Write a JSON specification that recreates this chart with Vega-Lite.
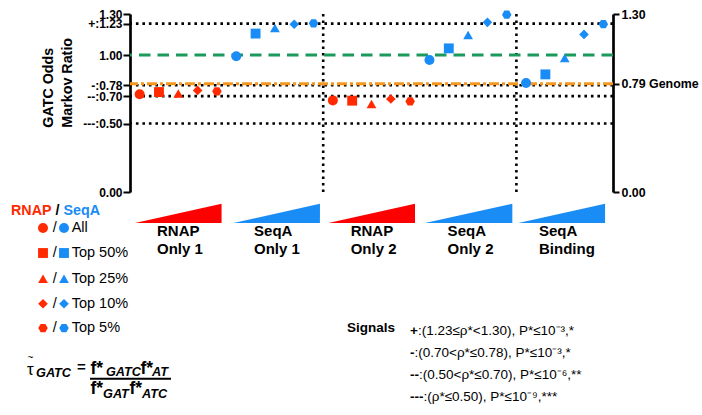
{
  "$schema": "https://vega.github.io/schema/vega-lite/v6.json",
  "width": 483,
  "height": 178,
  "autosize": {"type": "none"},
  "padding": {"left": 130, "top": 14, "right": 89, "bottom": 223},
  "background": "#ffffff",
  "config": {
    "view": {"stroke": null},
    "font": "Liberation Sans",
    "axis": {"labelFont": "Liberation Sans", "titleFont": "Liberation Sans", "grid": false, "domainColor": "#000000", "tickColor": "#000000", "labelColor": "#000000", "titleColor": "#000000"}
  },
  "datasets": {
    "points": [
      {"position": 0, "protein": "RNAP", "subset": "All", "ratio": 0.714},
      {"position": 1, "protein": "RNAP", "subset": "Top 50%", "ratio": 0.730},
      {"position": 2, "protein": "RNAP", "subset": "Top 25%", "ratio": 0.720},
      {"position": 3, "protein": "RNAP", "subset": "Top 10%", "ratio": 0.742},
      {"position": 4, "protein": "RNAP", "subset": "Top 5%", "ratio": 0.735},
      {"position": 5, "protein": "SeqA", "subset": "All", "ratio": 0.991},
      {"position": 6, "protein": "SeqA", "subset": "Top 50%", "ratio": 1.157},
      {"position": 7, "protein": "SeqA", "subset": "Top 25%", "ratio": 1.198},
      {"position": 8, "protein": "SeqA", "subset": "Top 10%", "ratio": 1.225},
      {"position": 9, "protein": "SeqA", "subset": "Top 5%", "ratio": 1.232},
      {"position": 10, "protein": "RNAP", "subset": "All", "ratio": 0.669},
      {"position": 11, "protein": "RNAP", "subset": "Top 50%", "ratio": 0.667},
      {"position": 12, "protein": "RNAP", "subset": "Top 25%", "ratio": 0.643},
      {"position": 13, "protein": "RNAP", "subset": "Top 10%", "ratio": 0.679},
      {"position": 14, "protein": "RNAP", "subset": "Top 5%", "ratio": 0.662},
      {"position": 15, "protein": "SeqA", "subset": "All", "ratio": 0.964},
      {"position": 16, "protein": "SeqA", "subset": "Top 50%", "ratio": 1.049},
      {"position": 17, "protein": "SeqA", "subset": "Top 25%", "ratio": 1.147},
      {"position": 18, "protein": "SeqA", "subset": "Top 10%", "ratio": 1.239},
      {"position": 19, "protein": "SeqA", "subset": "Top 5%", "ratio": 1.295},
      {"position": 20, "protein": "SeqA", "subset": "All", "ratio": 0.796},
      {"position": 21, "protein": "SeqA", "subset": "Top 50%", "ratio": 0.859},
      {"position": 22, "protein": "SeqA", "subset": "Top 25%", "ratio": 0.979},
      {"position": 23, "protein": "SeqA", "subset": "Top 10%", "ratio": 1.151},
      {"position": 24, "protein": "SeqA", "subset": "Top 5%", "ratio": 1.226}
    ],
    "hdotted": [{"y": 1.23}, {"y": 0.78}, {"y": 0.7}, {"y": 0.5}],
    "vdotted": [{"x": 9.5}, {"x": 19.5}],
    "unity": [{"y": 1.0}],
    "genome": [{"y": 0.79}],
    "yTitle": [
      {"t": "GATC Odds", "x": -4.486, "y": 0.4697},
      {"t": "Markov Ratio", "x": -3.502, "y": 0.4697}
    ],
    "wedges": [
      {"group": "RNAP Only 1", "protein": "RNAP", "x": -0.24, "lo": -0.2264, "hi": -0.2264},
      {"group": "RNAP Only 1", "protein": "RNAP", "x": 4.24, "lo": -0.2264, "hi": -0.0855},
      {"group": "SeqA Only 1", "protein": "SeqA", "x": 4.85, "lo": -0.2264, "hi": -0.2264},
      {"group": "SeqA Only 1", "protein": "SeqA", "x": 9.33, "lo": -0.2264, "hi": -0.0855},
      {"group": "RNAP Only 2", "protein": "RNAP", "x": 9.77, "lo": -0.2264, "hi": -0.2264},
      {"group": "RNAP Only 2", "protein": "RNAP", "x": 14.25, "lo": -0.2264, "hi": -0.0855},
      {"group": "SeqA Only 2", "protein": "SeqA", "x": 14.77, "lo": -0.2264, "hi": -0.2264},
      {"group": "SeqA Only 2", "protein": "SeqA", "x": 19.29, "lo": -0.2264, "hi": -0.0855},
      {"group": "SeqA Binding", "protein": "SeqA", "x": 19.6, "lo": -0.2264, "hi": -0.2264},
      {"group": "SeqA Binding", "protein": "SeqA", "x": 24.09, "lo": -0.2264, "hi": -0.0855}
    ],
    "groupLabels": [
      {"label": "RNAP\nOnly 1", "x": 0.898, "y": -0.3243},
      {"label": "SeqA\nOnly 1", "x": 5.92, "y": -0.3243},
      {"label": "RNAP\nOnly 2", "x": 10.92, "y": -0.3243},
      {"label": "SeqA\nOnly 2", "x": 15.94, "y": -0.3243},
      {"label": "SeqA\nBinding", "x": 20.67, "y": -0.3243}
    ],
    "legendHeader": [
      {"t": "RNAP", "protein": "RNAP", "x": -6.659, "y": -0.1658},
      {"t": "/", "protein": "none", "x": -4.356, "y": -0.1658},
      {"t": "SeqA", "protein": "SeqA", "x": -3.942, "y": -0.1658}
    ],
    "legendMarkers": [
      {"protein": "RNAP", "subset": "All", "x": -5.003, "y": -0.263},
      {"protein": "SeqA", "subset": "All", "x": -3.916, "y": -0.263},
      {"protein": "RNAP", "subset": "Top 50%", "x": -5.003, "y": -0.4456},
      {"protein": "SeqA", "subset": "Top 50%", "x": -3.916, "y": -0.4456},
      {"protein": "RNAP", "subset": "Top 25%", "x": -5.003, "y": -0.6333},
      {"protein": "SeqA", "subset": "Top 25%", "x": -3.916, "y": -0.6333},
      {"protein": "RNAP", "subset": "Top 10%", "x": -5.003, "y": -0.8159},
      {"protein": "SeqA", "subset": "Top 10%", "x": -3.916, "y": -0.8159},
      {"protein": "RNAP", "subset": "Top 5%", "x": -5.003, "y": -0.9934},
      {"protein": "SeqA", "subset": "Top 5%", "x": -3.916, "y": -0.9934}
    ],
    "legendSlashes": [
      {"x": -4.392, "y": -0.263}, {"x": -4.392, "y": -0.4456}, {"x": -4.392, "y": -0.6333}, {"x": -4.392, "y": -0.8159}, {"x": -4.392, "y": -0.9934}
    ],
    "legendLabels": [
      {"label": "All", "x": -3.518, "y": -0.263},
      {"label": "Top 50%", "x": -3.518, "y": -0.4456},
      {"label": "Top 25%", "x": -3.518, "y": -0.6333},
      {"label": "Top 10%", "x": -3.518, "y": -0.8159},
      {"label": "Top 5%", "x": -3.518, "y": -0.9934}
    ],
    "formulaTau": [{"t": "τ", "x": -5.831, "y": -1.3346}],
    "formulaTilde": [{"t": "~", "x": -5.65, "y": -1.2505}],
    "formulaBig": [
      {"t": "f*", "x": -2.545, "y": -1.327},
      {"t": "f*", "x": 0.043, "y": -1.327},
      {"t": "f*", "x": -2.545, "y": -1.473},
      {"t": "f*", "x": -0.526, "y": -1.473}
    ],
    "formulaEq": [{"t": "=", "x": -3.243, "y": -1.3126}],
    "formulaSub": [
      {"t": "GATC", "x": -5.365, "y": -1.3485},
      {"t": "GATC", "x": -1.742, "y": -1.341},
      {"t": "AT", "x": 0.639, "y": -1.341},
      {"t": "GAT", "x": -1.897, "y": -1.506},
      {"t": "ATC", "x": 0.121, "y": -1.506}
    ],
    "formulaBar": [{"x": -2.57, "x2": 1.622, "y": -1.3638}],
    "signalsTitle": [{"t": "Signals", "x": 10.732, "y": -1.0226}],
    "signalPrefixes": [
      {"t": "+", "x": 13.993, "y": -1.0424},
      {"t": "-", "x": 13.993, "y": -1.2053},
      {"t": "--", "x": 13.993, "y": -1.366},
      {"t": "---", "x": 13.993, "y": -1.5245}
    ],
    "signalRest": [
      {"t": ":(1.23≤ρ*<1.30), P*≤10⁻³,*", "x": 14.401, "y": -1.0424},
      {"t": ":(0.70<ρ*≤0.78), P*≤10⁻³,*", "x": 14.225, "y": -1.2053},
      {"t": ":(0.50<ρ*≤0.70), P*≤10⁻⁶,**", "x": 14.458, "y": -1.366},
      {"t": ":(ρ*≤0.50), P*≤10⁻⁹,***", "x": 14.691, "y": -1.5245}
    ]
  },
  "layer": [
    {
      "data": {"name": "hdotted"},
      "mark": {"type": "rule", "color": "#000000", "strokeWidth": 2.6, "strokeDash": [2.6, 3.9]},
      "encoding": {"y": {"field": "y", "type": "quantitative", "scale": {"domain": [0, 1.3], "nice": false, "zero": false}, "axis": null}}
    },
    {
      "data": {"name": "vdotted"},
      "mark": {"type": "rule", "color": "#000000", "strokeWidth": 2.6, "strokeDash": [2.6, 3.9]},
      "encoding": {"x": {"field": "x", "type": "quantitative", "scale": {"domain": [-0.5, 24.5], "nice": false, "zero": false}, "axis": null}}
    },
    {
      "data": {"name": "unity"},
      "mark": {"type": "rule", "color": "#1B9A5B", "strokeWidth": 3, "strokeDash": [11.5, 7]},
      "encoding": {"y": {"field": "y", "type": "quantitative", "scale": {"domain": [0, 1.3], "nice": false, "zero": false}, "axis": null}}
    },
    {
      "data": {"name": "genome"},
      "mark": {"type": "rule", "color": "#F5961E", "strokeWidth": 3, "strokeDash": [10, 3, 3, 3]},
      "encoding": {"y": {"field": "y", "type": "quantitative", "scale": {"domain": [0, 1.3], "nice": false, "zero": false},
        "axis": {"orient": "right", "values": [0, 0.79, 1.3], "labelExpr": "datum.value == 0.79 ? '0.79 Genome' : format(datum.value, '.2f')", "labelFontSize": 12.4, "labelFontWeight": "bold", "labelPadding": 2, "labelOverlap": false, "tickSize": 6, "tickWidth": 2, "domainWidth": 2.7, "title": null}}}
    },
    {
      "data": {"name": "yTitle"},
      "mark": {"type": "text", "align": "left", "baseline": "alphabetic", "angle": 270, "fontSize": 14.3, "fontWeight": "bold", "color": "#000000"},
      "encoding": {
        "x": {"field": "x", "type": "quantitative", "scale": {"domain": [-0.5, 24.5], "nice": false, "zero": false}, "axis": null},
        "y": {"field": "y", "type": "quantitative", "scale": {"domain": [0, 1.3], "nice": false, "zero": false}, "axis": null},
        "text": {"field": "t"}
      }
    },
    {
      "data": {"name": "wedges"},
      "transform": [{"filter": "datum.protein == 'RNAP'"}],
      "mark": {"type": "area", "color": "#FF0000", "opacity": 1},
      "encoding": {
        "x": {"field": "x", "type": "quantitative", "scale": {"domain": [-0.5, 24.5], "nice": false, "zero": false}, "axis": null},
        "y": {"field": "hi", "type": "quantitative", "scale": {"domain": [0, 1.3], "nice": false, "zero": false}, "axis": null},
        "y2": {"field": "lo"},
        "detail": {"field": "group"}
      }
    },
    {
      "data": {"name": "wedges"},
      "transform": [{"filter": "datum.protein == 'SeqA'"}],
      "mark": {"type": "area", "color": "#1A8CF5", "opacity": 1},
      "encoding": {
        "x": {"field": "x", "type": "quantitative", "scale": {"domain": [-0.5, 24.5], "nice": false, "zero": false}, "axis": null},
        "y": {"field": "hi", "type": "quantitative", "scale": {"domain": [0, 1.3], "nice": false, "zero": false}, "axis": null},
        "y2": {"field": "lo"},
        "detail": {"field": "group"}
      }
    },
    {
      "data": {"name": "groupLabels"},
      "mark": {"type": "text", "align": "left", "baseline": "alphabetic", "fontSize": 15, "fontWeight": "bold", "color": "#000000", "lineBreak": "\n", "lineHeight": 17.5},
      "encoding": {
        "x": {"field": "x", "type": "quantitative", "scale": {"domain": [-0.5, 24.5], "nice": false, "zero": false}, "axis": null},
        "y": {"field": "y", "type": "quantitative", "scale": {"domain": [0, 1.3], "nice": false, "zero": false}, "axis": null},
        "text": {"field": "label"}
      }
    },
    {
      "data": {"name": "legendHeader"},
      "mark": {"type": "text", "align": "left", "baseline": "alphabetic", "fontSize": 14.3, "fontWeight": "bold"},
      "encoding": {
        "x": {"field": "x", "type": "quantitative", "scale": {"domain": [-0.5, 24.5], "nice": false, "zero": false}, "axis": null},
        "y": {"field": "y", "type": "quantitative", "scale": {"domain": [0, 1.3], "nice": false, "zero": false}, "axis": null},
        "text": {"field": "t"},
        "color": {"field": "protein", "type": "nominal", "scale": {"domain": ["RNAP", "SeqA", "none"], "range": ["#FF2A00", "#1A8CF5", "#000000"]}, "legend": null}
      }
    },
    {
      "data": {"name": "legendMarkers"},
      "mark": {"type": "point", "filled": true, "opacity": 1, "strokeWidth": 0},
      "encoding": {
        "x": {"field": "x", "type": "quantitative", "scale": {"domain": [-0.5, 24.5], "nice": false, "zero": false}, "axis": null},
        "y": {"field": "y", "type": "quantitative", "scale": {"domain": [0, 1.3], "nice": false, "zero": false}, "axis": null},
        "color": {"field": "protein", "type": "nominal", "scale": {"domain": ["RNAP", "SeqA", "none"], "range": ["#FF2A00", "#1A8CF5", "#000000"]}, "legend": null},
        "shape": {"field": "subset", "type": "nominal", "scale": {"domain": ["All", "Top 50%", "Top 25%", "Top 10%", "Top 5%"], "range": ["circle", "square", "triangle-up", "diamond", "M-1,0L-0.5,-0.866L0.5,-0.866L1,0L0.5,0.866L-0.5,0.866Z"]}, "legend": null},
        "size": {"field": "subset", "type": "ordinal", "scale": {"domain": ["All", "Top 50%", "Top 25%", "Top 10%", "Top 5%"], "range": [100, 90, 110, 72, 100]}, "legend": null}
      }
    },
    {
      "data": {"name": "legendSlashes"},
      "mark": {"type": "text", "align": "center", "baseline": "middle", "fontSize": 14.5, "color": "#000000"},
      "encoding": {
        "x": {"field": "x", "type": "quantitative", "scale": {"domain": [-0.5, 24.5], "nice": false, "zero": false}, "axis": null},
        "y": {"field": "y", "type": "quantitative", "scale": {"domain": [0, 1.3], "nice": false, "zero": false}, "axis": null},
        "text": {"value": "/"}
      }
    },
    {
      "data": {"name": "legendLabels"},
      "mark": {"type": "text", "align": "left", "baseline": "middle", "fontSize": 14.5, "color": "#000000"},
      "encoding": {
        "x": {"field": "x", "type": "quantitative", "scale": {"domain": [-0.5, 24.5], "nice": false, "zero": false}, "axis": null},
        "y": {"field": "y", "type": "quantitative", "scale": {"domain": [0, 1.3], "nice": false, "zero": false}, "axis": null},
        "text": {"field": "label"}
      }
    },
    {
      "data": {"name": "formulaTau"},
      "mark": {"type": "text", "align": "left", "baseline": "alphabetic", "fontSize": 17, "color": "#000000"},
      "encoding": {
        "x": {"field": "x", "type": "quantitative", "scale": {"domain": [-0.5, 24.5], "nice": false, "zero": false}, "axis": null},
        "y": {"field": "y", "type": "quantitative", "scale": {"domain": [0, 1.3], "nice": false, "zero": false}, "axis": null},
        "text": {"field": "t"}
      }
    },
    {
      "data": {"name": "formulaTilde"},
      "mark": {"type": "text", "align": "center", "baseline": "bottom", "fontSize": 10, "color": "#000000"},
      "encoding": {
        "x": {"field": "x", "type": "quantitative", "scale": {"domain": [-0.5, 24.5], "nice": false, "zero": false}, "axis": null},
        "y": {"field": "y", "type": "quantitative", "scale": {"domain": [0, 1.3], "nice": false, "zero": false}, "axis": null},
        "text": {"field": "t"}
      }
    },
    {
      "data": {"name": "formulaBig"},
      "mark": {"type": "text", "align": "left", "baseline": "alphabetic", "fontSize": 17.5, "fontWeight": "bold", "color": "#000000"},
      "encoding": {
        "x": {"field": "x", "type": "quantitative", "scale": {"domain": [-0.5, 24.5], "nice": false, "zero": false}, "axis": null},
        "y": {"field": "y", "type": "quantitative", "scale": {"domain": [0, 1.3], "nice": false, "zero": false}, "axis": null},
        "text": {"field": "t"}
      }
    },
    {
      "data": {"name": "formulaEq"},
      "mark": {"type": "text", "align": "left", "baseline": "alphabetic", "fontSize": 15, "fontWeight": "bold", "color": "#000000"},
      "encoding": {
        "x": {"field": "x", "type": "quantitative", "scale": {"domain": [-0.5, 24.5], "nice": false, "zero": false}, "axis": null},
        "y": {"field": "y", "type": "quantitative", "scale": {"domain": [0, 1.3], "nice": false, "zero": false}, "axis": null},
        "text": {"field": "t"}
      }
    },
    {
      "data": {"name": "formulaSub"},
      "mark": {"type": "text", "align": "left", "baseline": "alphabetic", "fontSize": 12.7, "fontWeight": "bold", "fontStyle": "italic", "color": "#000000"},
      "encoding": {
        "x": {"field": "x", "type": "quantitative", "scale": {"domain": [-0.5, 24.5], "nice": false, "zero": false}, "axis": null},
        "y": {"field": "y", "type": "quantitative", "scale": {"domain": [0, 1.3], "nice": false, "zero": false}, "axis": null},
        "text": {"field": "t"}
      }
    },
    {
      "data": {"name": "formulaBar"},
      "mark": {"type": "rule", "color": "#000000", "strokeWidth": 1.8},
      "encoding": {
        "x": {"field": "x", "type": "quantitative", "scale": {"domain": [-0.5, 24.5], "nice": false, "zero": false}, "axis": null},
        "x2": {"field": "x2"},
        "y": {"field": "y", "type": "quantitative", "scale": {"domain": [0, 1.3], "nice": false, "zero": false}, "axis": null}
      }
    },
    {
      "data": {"name": "signalsTitle"},
      "mark": {"type": "text", "align": "left", "baseline": "alphabetic", "fontSize": 13.5, "fontWeight": "bold", "color": "#000000"},
      "encoding": {
        "x": {"field": "x", "type": "quantitative", "scale": {"domain": [-0.5, 24.5], "nice": false, "zero": false}, "axis": null},
        "y": {"field": "y", "type": "quantitative", "scale": {"domain": [0, 1.3], "nice": false, "zero": false}, "axis": null},
        "text": {"field": "t"}
      }
    },
    {
      "data": {"name": "signalPrefixes"},
      "mark": {"type": "text", "align": "left", "baseline": "alphabetic", "fontSize": 13.5, "fontWeight": "bold", "color": "#000000"},
      "encoding": {
        "x": {"field": "x", "type": "quantitative", "scale": {"domain": [-0.5, 24.5], "nice": false, "zero": false}, "axis": null},
        "y": {"field": "y", "type": "quantitative", "scale": {"domain": [0, 1.3], "nice": false, "zero": false}, "axis": null},
        "text": {"field": "t"}
      }
    },
    {
      "data": {"name": "signalRest"},
      "mark": {"type": "text", "align": "left", "baseline": "alphabetic", "fontSize": 13.5, "color": "#000000"},
      "encoding": {
        "x": {"field": "x", "type": "quantitative", "scale": {"domain": [-0.5, 24.5], "nice": false, "zero": false}, "axis": null},
        "y": {"field": "y", "type": "quantitative", "scale": {"domain": [0, 1.3], "nice": false, "zero": false}, "axis": null},
        "text": {"field": "t"}
      }
    },
    {
      "data": {"name": "points"},
      "mark": {"type": "point", "filled": true, "opacity": 1, "strokeWidth": 0},
      "encoding": {
        "x": {"field": "position", "type": "quantitative", "scale": {"domain": [-0.5, 24.5], "nice": false, "zero": false},
          "axis": {"orient": "bottom", "values": [0,1,2,3,4,5,6,7,8,9,10,11,12,13,14,15,16,17,18,19,20,21,22,23,24], "labels": false, "tickSize": 7, "tickWidth": 2, "domainWidth": 2.7, "title": null}},
        "y": {"field": "ratio", "type": "quantitative", "scale": {"domain": [0, 1.3], "nice": false, "zero": false},
          "axis": {"orient": "left", "values": [0, 0.5, 0.7, 0.78, 1, 1.23, 1.3],
            "labelExpr": "datum.value == 1.23 ? '+:1.23' : datum.value == 0.78 ? '-:0.78' : datum.value == 0.7 ? '--:0.70' : datum.value == 0.5 ? '---:0.50' : format(datum.value, '.2f')",
            "labelFontSize": 12, "labelFontWeight": "bold", "labelOverlap": false, "labelPadding": 1, "tickSize": 7, "tickWidth": 2, "domainWidth": 2.7,
            "title": null}},
        "color": {"field": "protein", "type": "nominal", "scale": {"domain": ["RNAP", "SeqA", "none"], "range": ["#FF2A00", "#1A8CF5", "#000000"]}, "legend": null},
        "shape": {"field": "subset", "type": "nominal", "scale": {"domain": ["All", "Top 50%", "Top 25%", "Top 10%", "Top 5%"], "range": ["circle", "square", "triangle-up", "diamond", "M-1,0L-0.5,-0.866L0.5,-0.866L1,0L0.5,0.866L-0.5,0.866Z"]}, "legend": null},
        "size": {"field": "subset", "type": "ordinal", "scale": {"domain": ["All", "Top 50%", "Top 25%", "Top 10%", "Top 5%"], "range": [100, 90, 110, 72, 100]}, "legend": null}
      }
    }
  ],
  "resolve": {"axis": {"y": "independent"}}
}
